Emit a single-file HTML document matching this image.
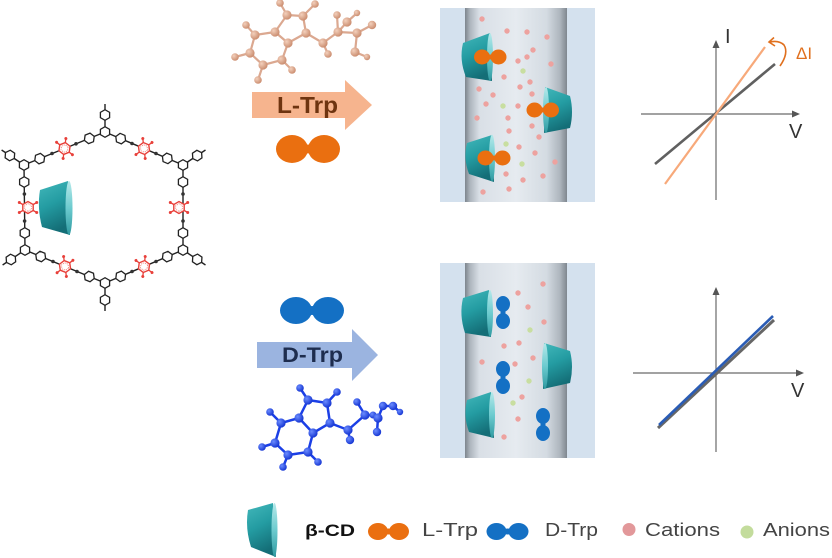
<!DOCTYPE html>
<html><head><meta charset="utf-8"><style>
html,body{margin:0;padding:0;background:#fff;}
svg{display:block;}
text{font-family:"Liberation Sans",Arial,sans-serif;}
</style></head><body>
<svg width="832" height="558" viewBox="0 0 832 558" xmlns="http://www.w3.org/2000/svg">
<defs>
<polygon id="ph" points="5.3,0 2.65,4.6 -2.65,4.6 -5.3,0 -2.65,-4.6 2.65,-4.6" fill="#fff" stroke="#222" stroke-width="1.3"/>
<g id="rd">
<path d="M3,5.2 L5,8.7 M-3,5.2 L-5,8.7 M3,-5.2 L5,-8.7 M-3,-5.2 L-5,-8.7" stroke="#e8403a" stroke-width="1.3"/>
<polygon points="6,0 3,5.2 -3,5.2 -6,0 -3,-5.2 3,-5.2" fill="#fff" stroke="#e8403a" stroke-width="1.4"/>
<polygon points="3.8,0 1.9,3.3 -1.9,3.3 -3.8,0 -1.9,-3.3 1.9,-3.3" fill="none" stroke="#f07a70" stroke-width="0.8" stroke-dasharray="1.2 1"/>
<circle cx="5" cy="8.7" r="1.5" fill="#e8403a"/><circle cx="-5" cy="8.7" r="1.5" fill="#e8403a"/>
<circle cx="5" cy="-8.7" r="1.5" fill="#e8403a"/><circle cx="-5" cy="-8.7" r="1.5" fill="#e8403a"/>
</g>
<linearGradient id="cg" x1="0" y1="0" x2="0.3" y2="1">
<stop offset="0" stop-color="#43b8bb"/><stop offset="0.5" stop-color="#249ca2"/><stop offset="1" stop-color="#146e77"/>
</linearGradient>
<linearGradient id="rg" x1="0" y1="0" x2="0" y2="1">
<stop offset="0" stop-color="#b5e9ea"/><stop offset="0.5" stop-color="#6ccbcf"/><stop offset="1" stop-color="#2f9aa1"/>
</linearGradient>
<linearGradient id="tube" x1="0" y1="0" x2="1" y2="0">
<stop offset="0" stop-color="#7d858d"/><stop offset="0.05" stop-color="#adb5bd"/><stop offset="0.14" stop-color="#d9dfe6"/>
<stop offset="0.5" stop-color="#e6ebf0"/><stop offset="0.8" stop-color="#d4dbe2"/><stop offset="0.93" stop-color="#aeb6be"/><stop offset="1" stop-color="#7f878f"/>
</linearGradient>
<radialGradient id="bb" cx="0.35" cy="0.35" r="0.7">
<stop offset="0" stop-color="#f3d0bc"/><stop offset="1" stop-color="#c98a6c"/>
</radialGradient>
<radialGradient id="bl" cx="0.35" cy="0.35" r="0.7">
<stop offset="0" stop-color="#6b8cff"/><stop offset="1" stop-color="#1232d0"/>
</radialGradient>
</defs>

<!-- ===== Framework ===== -->
<g stroke="#222" stroke-width="1.4" fill="none">
<path d="M105,132 L24,165 M105,132 L183,165 M24,165 L25,250 M183,165 L183,250 M25,250 L105,283 M183,250 L105,283"/>
<path d="M105,132 L105,104 M24,165 L1.6,150 M25,250 L2.6,265 M183,165 L205.5,150 M183,250 L205.5,265 M105,283 L105,311"/>
</g>
<g>
<use href="#ph" transform="translate(105,132) rotate(30)"/>
<use href="#ph" transform="translate(24,165) rotate(30)"/>
<use href="#ph" transform="translate(183,165) rotate(30)"/>
<use href="#ph" transform="translate(25,250) rotate(30)"/>
<use href="#ph" transform="translate(183,250) rotate(30)"/>
<use href="#ph" transform="translate(105,283) rotate(30)"/>
<use href="#ph" transform="translate(89.3,138.4) rotate(-22)"/>
<use href="#ph" transform="translate(39.7,158.6) rotate(-22)"/>
<use href="#ph" transform="translate(120.7,138.6) rotate(23)"/>
<use href="#ph" transform="translate(167.3,158.4) rotate(23)"/>
<use href="#ph" transform="translate(24.2,182) rotate(90)"/>
<use href="#ph" transform="translate(24.8,233) rotate(90)"/>
<use href="#ph" transform="translate(183,182) rotate(90)"/>
<use href="#ph" transform="translate(183,233) rotate(90)"/>
<use href="#ph" transform="translate(40.7,256.5) rotate(22)"/>
<use href="#ph" transform="translate(89.3,276.5) rotate(22)"/>
<use href="#ph" transform="translate(167.3,256.6) rotate(-23)"/>
<use href="#ph" transform="translate(120.7,276.4) rotate(-23)"/>
<use href="#ph" transform="translate(105,115) rotate(90)"/>
<use href="#ph" transform="translate(9.9,155.5) rotate(34)"/>
<use href="#ph" transform="translate(10.9,259.5) rotate(-34)"/>
<use href="#ph" transform="translate(197.2,155.6) rotate(-33.5)"/>
<use href="#ph" transform="translate(197.2,259.4) rotate(33.5)"/>
<use href="#ph" transform="translate(105,300) rotate(90)"/>
</g>
<g fill="#333">
<circle cx="76" cy="143.8" r="1.8"/><circle cx="52" cy="153.5" r="1.8"/>
<circle cx="132" cy="143.5" r="1.8"/><circle cx="156" cy="153.5" r="1.8"/>
<circle cx="24.4" cy="194" r="1.8"/><circle cx="24.6" cy="221" r="1.8"/>
<circle cx="183" cy="194" r="1.8"/><circle cx="183" cy="221" r="1.8"/>
<circle cx="53" cy="261.5" r="1.8"/><circle cx="77" cy="271.5" r="1.8"/>
<circle cx="156" cy="261.5" r="1.8"/><circle cx="132" cy="271.5" r="1.8"/>
</g>
<use href="#rd" transform="translate(64.5,148.5) rotate(-22)"/>
<use href="#rd" transform="translate(144,148.5) rotate(23)"/>
<use href="#rd" transform="translate(28,207.5) rotate(90)"/>
<use href="#rd" transform="translate(179,207.5) rotate(90)"/>
<use href="#rd" transform="translate(65,266.5) rotate(22)"/>
<use href="#rd" transform="translate(144,266.5) rotate(-23)"/>
<!-- framework cone -->
<path d="M40,190 L68,181 L70,235 L42,227 Q37,208 40,190 Z" fill="url(#cg)"/>
<ellipse cx="69" cy="208" rx="3.5" ry="27" fill="url(#rg)"/>

<!-- ===== L-Trp molecule (top) ===== -->
<g stroke="#dba890" stroke-width="2.2" fill="none">
<path d="M287,15 L280,3 M303,16 L315,4 M287,15 L303,16 L306,33 L288,43 L275,32 Z M275,32 L255,35 L250,53 L263,65 L282,60 L288,43 M255,35 L246,25 M250,53 L235,57 M263,65 L258,80 M282,60 L292,70 M306,33 L323,43 L328,54 M323,43 L338,32 L337,15 M338,32 L347,22 L357,13 M338,32 L357,33 L372,25 M357,33 L355,52 L367,57"/>
</g>
<g fill="url(#bb)">
<circle cx="280" cy="3" r="3.8"/><circle cx="315" cy="4" r="3.8"/><circle cx="287" cy="15" r="4.6"/><circle cx="303" cy="16" r="4.6"/>
<circle cx="246" cy="25" r="3.8"/><circle cx="275" cy="32" r="4.6"/><circle cx="306" cy="33" r="4.6"/><circle cx="255" cy="35" r="4.6"/>
<circle cx="288" cy="43" r="4.6"/><circle cx="250" cy="53" r="4.6"/><circle cx="235" cy="57" r="3.8"/><circle cx="282" cy="60" r="4.6"/>
<circle cx="263" cy="65" r="4.6"/><circle cx="292" cy="70" r="3.8"/><circle cx="258" cy="80" r="3.8"/><circle cx="323" cy="43" r="4.6"/>
<circle cx="328" cy="54" r="3.8"/><circle cx="337" cy="15" r="3.8"/><circle cx="347" cy="22" r="4.6"/><circle cx="357" cy="13" r="3.2"/>
<circle cx="338" cy="32" r="4.6"/><circle cx="357" cy="33" r="4.6"/><circle cx="372" cy="25" r="4.2"/><circle cx="355" cy="52" r="4.6"/><circle cx="367" cy="57" r="3.2"/>
</g>

<!-- L-Trp arrow -->
<polygon points="252,92 345,92 345,80 372,105 345,130 345,118 252,118" fill="#f6b48e"/>
<text x="277" y="113" font-size="23" font-weight="bold" fill="#6e3410" textLength="61" lengthAdjust="spacingAndGlyphs">L-Trp</text>
<!-- orange dumbbell -->
<g fill="#ea6f10">
<ellipse cx="292" cy="149" rx="16" ry="14"/><ellipse cx="324" cy="149" rx="16" ry="14"/><ellipse cx="308" cy="149" rx="8" ry="4.5"/>
</g>

<!-- ===== Top channel ===== -->
<rect x="440" y="8" width="155" height="194" fill="#d4e1ee"/>
<rect x="465" y="8" width="102" height="194" fill="url(#tube)"/>
<g fill="#eda29f">
<circle cx="482" cy="19" r="2.7"/><circle cx="507" cy="31" r="2.7"/><circle cx="527" cy="32" r="2.7"/><circle cx="547" cy="37" r="2.7"/>
<circle cx="533" cy="50" r="2.7"/><circle cx="527" cy="57" r="2.7"/><circle cx="518" cy="61" r="2.7"/><circle cx="551" cy="64" r="2.7"/>
<circle cx="504" cy="77" r="2.7"/><circle cx="530" cy="82" r="2.7"/><circle cx="520" cy="87" r="2.7"/><circle cx="479" cy="89" r="2.7"/>
<circle cx="532" cy="94" r="2.7"/><circle cx="493" cy="95" r="2.7"/><circle cx="486" cy="104" r="2.7"/><circle cx="518" cy="106" r="2.7"/>
<circle cx="477" cy="118" r="2.7"/><circle cx="508" cy="118" r="2.7"/><circle cx="532" cy="126" r="2.7"/><circle cx="509" cy="131" r="2.7"/>
<circle cx="539" cy="137" r="2.7"/><circle cx="519" cy="147" r="2.7"/><circle cx="535" cy="153" r="2.7"/><circle cx="555" cy="162" r="2.7"/>
<circle cx="506" cy="174" r="2.7"/><circle cx="543" cy="176" r="2.7"/><circle cx="523" cy="180" r="2.7"/><circle cx="483" cy="192" r="2.7"/><circle cx="509" cy="189" r="2.7"/>
</g>
<g fill="#c8dea0">
<circle cx="523" cy="71" r="2.7"/><circle cx="503" cy="106" r="2.7"/><circle cx="506" cy="144" r="2.7"/><circle cx="522" cy="164" r="2.7"/>
</g>
<!-- cones top channel -->
<path d="M463,43 L490,33 L492,81 L466,77 Q459,60 463,43 Z" fill="url(#cg)"/>
<ellipse cx="490" cy="57" rx="3" ry="24" fill="url(#rg)"/>
<path d="M570,96 L545,87 L544,133 L570,128 Q574,112 570,96 Z" fill="url(#cg)"/>
<ellipse cx="546" cy="110" rx="3" ry="23" fill="url(#rg)"/>
<path d="M467,143 L492,135 L494,182 L469,174 Q463,158 467,143 Z" fill="url(#cg)"/>
<ellipse cx="492" cy="158" rx="3" ry="23.5" fill="url(#rg)"/>
<!-- orange dumbbells in channel -->
<g fill="#ea6f10">
<ellipse cx="482" cy="57" rx="8" ry="7.5"/><ellipse cx="498.5" cy="57" rx="8" ry="7.5"/><ellipse cx="490.2" cy="57" rx="4" ry="2.5"/>
<ellipse cx="534.5" cy="110" rx="8" ry="7.5"/><ellipse cx="551" cy="110" rx="8" ry="7.5"/><ellipse cx="542.7" cy="110" rx="4" ry="2.5"/>
<ellipse cx="485.5" cy="158" rx="8" ry="7.5"/><ellipse cx="502.5" cy="158" rx="8" ry="7.5"/><ellipse cx="494" cy="158" rx="4" ry="2.5"/>
</g>

<!-- ===== Top graph ===== -->
<g stroke="#6a6a6a" stroke-width="1.2">
<line x1="716" y1="200" x2="716" y2="46"/>
<line x1="641" y1="114" x2="793" y2="114"/>
</g>
<polygon points="716,40 712.5,48 719.5,48" fill="#555"/>
<polygon points="800,114 792,110.5 792,117.5" fill="#555"/>
<line x1="655" y1="164" x2="775" y2="64" stroke="#606060" stroke-width="2.6"/>
<line x1="665" y1="184" x2="765" y2="47" stroke="#f7a97a" stroke-width="2.2"/>
<text x="725" y="43" font-size="20" fill="#333">I</text>
<text x="789" y="138" font-size="20" fill="#333">V</text>
<text x="796" y="59" font-size="17" fill="#e0701e">ΔI</text>
<path d="M780,66 Q789,53 784,45 Q779,40 770,42" fill="none" stroke="#e0701e" stroke-width="1.6"/>
<path d="M774,37.5 L769,42 L775,46" fill="none" stroke="#e0701e" stroke-width="1.6"/>

<!-- ===== D-Trp (bottom) ===== -->
<g fill="#1470c4">
<ellipse cx="296" cy="310.5" rx="16" ry="13.5"/><ellipse cx="328" cy="310.5" rx="16" ry="13.5"/><ellipse cx="312" cy="310.5" rx="8" ry="4.5"/>
</g>
<polygon points="257,342 352,342 352,329 378,355 352,381 352,368 257,368" fill="#9bb4e0"/>
<text x="282" y="362" font-size="21" font-weight="bold" fill="#1e2d4e" textLength="61" lengthAdjust="spacingAndGlyphs">D-Trp</text>

<g stroke="#1b3fe6" stroke-width="2.5" fill="none">
<path d="M300,388 L308,400 M337,392 L327,403 M308,400 L327,403 L330,423 L313,433 L299,418 Z M299,418 L281,423 L275,443 L288,455 L308,452 L313,433 M281,423 L270,412 M275,443 L262,447 M288,455 L283,467 M308,452 L318,462 M330,423 L348,430 L350,440 M348,430 L365,415 L357,402 M365,415 L373,415 L378,418 L377,432 M378,418 L383,406 L393,406 L400,412"/>
</g>
<g fill="url(#bl)">
<circle cx="300" cy="388" r="3.8"/><circle cx="337" cy="392" r="3.8"/><circle cx="308" cy="400" r="4.6"/><circle cx="327" cy="403" r="4.6"/>
<circle cx="357" cy="402" r="3.8"/><circle cx="383" cy="406" r="4.2"/><circle cx="393" cy="406" r="4.2"/><circle cx="270" cy="412" r="3.8"/>
<circle cx="299" cy="418" r="4.6"/><circle cx="365" cy="415" r="4.6"/><circle cx="373" cy="415" r="3.5"/><circle cx="378" cy="418" r="4.6"/>
<circle cx="400" cy="412" r="3.2"/><circle cx="330" cy="423" r="4.6"/><circle cx="281" cy="423" r="4.6"/><circle cx="348" cy="430" r="4.6"/>
<circle cx="313" cy="433" r="4.6"/><circle cx="377" cy="432" r="4.2"/><circle cx="350" cy="440" r="4.2"/><circle cx="275" cy="443" r="4.6"/>
<circle cx="262" cy="447" r="3.8"/><circle cx="308" cy="452" r="4.6"/><circle cx="288" cy="455" r="4.6"/><circle cx="318" cy="462" r="3.8"/><circle cx="283" cy="467" r="3.8"/>
</g>

<!-- ===== Bottom channel ===== -->
<rect x="440" y="263" width="155" height="195" fill="#d4e1ee"/>
<rect x="465" y="263" width="102" height="195" fill="url(#tube)"/>
<g fill="#eda29f">
<circle cx="543" cy="284" r="2.7"/><circle cx="518" cy="293" r="2.7"/><circle cx="528" cy="307" r="2.7"/><circle cx="544" cy="322" r="2.7"/>
<circle cx="504" cy="346" r="2.7"/><circle cx="519" cy="343" r="2.7"/><circle cx="533" cy="358" r="2.7"/><circle cx="482" cy="362" r="2.7"/>
<circle cx="515" cy="364" r="2.7"/><circle cx="522" cy="397" r="2.7"/><circle cx="518" cy="419" r="2.7"/><circle cx="504" cy="437" r="2.7"/>
</g>
<g fill="#c8dea0">
<circle cx="530" cy="330" r="2.7"/><circle cx="529" cy="381" r="2.7"/><circle cx="513" cy="403" r="2.7"/>
</g>
<path d="M463,298 L489,290 L491,337 L465,333 Q459,315 463,298 Z" fill="url(#cg)"/>
<ellipse cx="490" cy="313.5" rx="3" ry="23.5" fill="url(#rg)"/>
<path d="M570,351 L544,343 L543,389 L570,383 Q574,367 570,351 Z" fill="url(#cg)"/>
<ellipse cx="545" cy="366" rx="3" ry="23" fill="url(#rg)"/>
<path d="M467,400 L491,392 L494,438 L469,432 Q463,416 467,400 Z" fill="url(#cg)"/>
<ellipse cx="492" cy="415" rx="3" ry="23" fill="url(#rg)"/>
<g fill="#1470c4">
<ellipse cx="503" cy="304" rx="7" ry="8"/><ellipse cx="503" cy="321" rx="7" ry="8"/><ellipse cx="503" cy="312.5" rx="2.5" ry="4"/>
<ellipse cx="503" cy="369" rx="7" ry="8"/><ellipse cx="503" cy="386" rx="7" ry="8"/><ellipse cx="503" cy="377.5" rx="2.5" ry="4"/>
<ellipse cx="543" cy="416" rx="7" ry="8"/><ellipse cx="543" cy="433" rx="7" ry="8"/><ellipse cx="543" cy="424.5" rx="2.5" ry="4"/>
</g>

<!-- ===== Bottom graph ===== -->
<g stroke="#6a6a6a" stroke-width="1.2">
<line x1="716" y1="452" x2="716" y2="294"/>
<line x1="633" y1="373" x2="797" y2="373"/>
</g>
<polygon points="716,287 712.5,295 719.5,295" fill="#555"/>
<polygon points="804,373 796,369.5 796,376.5" fill="#555"/>
<line x1="658" y1="428" x2="774" y2="320" stroke="#666" stroke-width="3"/>
<line x1="659" y1="425" x2="773" y2="316" stroke="#2a5cb5" stroke-width="2.6"/>
<text x="791" y="397" font-size="20" fill="#333">V</text>

<!-- ===== Legend ===== -->
<path d="M248,510 L273,503 L276,557 L251,547 Q245,528 248,510 Z" fill="url(#cg)"/>
<ellipse cx="274.5" cy="530" rx="3" ry="27" fill="url(#rg)"/>
<text x="305" y="536" font-size="17" font-weight="bold" fill="#111" textLength="50" lengthAdjust="spacingAndGlyphs">β-CD</text>
<g fill="#ea6f10">
<ellipse cx="378" cy="531.5" rx="10" ry="8.5"/><ellipse cx="399" cy="531.5" rx="10" ry="8.5"/><ellipse cx="388.5" cy="531.5" rx="5" ry="3"/>
</g>
<text x="422" y="536" font-size="18" fill="#444" textLength="56" lengthAdjust="spacingAndGlyphs">L-Trp</text>
<g fill="#1470c4">
<ellipse cx="496.5" cy="531.5" rx="10" ry="8.5"/><ellipse cx="518.5" cy="531.5" rx="10" ry="8.5"/><ellipse cx="507.5" cy="531.5" rx="5" ry="3"/>
</g>
<text x="545" y="536" font-size="18" fill="#444" textLength="53" lengthAdjust="spacingAndGlyphs">D-Trp</text>
<circle cx="629" cy="529.5" r="6.5" fill="#e2989a"/>
<text x="645" y="536" font-size="18" fill="#444" textLength="75" lengthAdjust="spacingAndGlyphs">Cations</text>
<circle cx="747" cy="532" r="6.5" fill="#c3dc9c"/>
<text x="763" y="536" font-size="18" fill="#444" textLength="67" lengthAdjust="spacingAndGlyphs">Anions</text>
</svg>
</body></html>
